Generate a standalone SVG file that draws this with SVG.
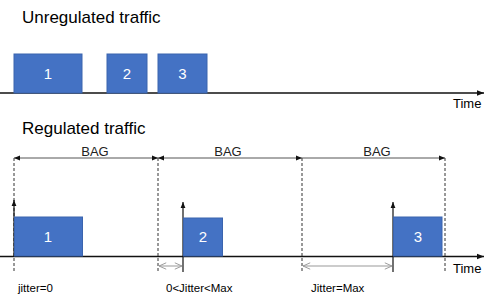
<svg xmlns="http://www.w3.org/2000/svg" width="498" height="301" viewBox="0 0 498 301">
<style>
text{font-family:"Liberation Sans",Arial,sans-serif;fill:#000}
.title{font-size:17px}
.num{font-size:15px;fill:#fff;text-anchor:middle}
.lbl{font-size:11.5px}
.bag{font-size:13px;text-anchor:middle;fill:#222}
.time{font-size:13px}
.box{fill:#4472C4;stroke:#3A64AE;stroke-width:1}
.axis{stroke:#111;stroke-width:1.5;fill:none}
.bagline{stroke:#555;stroke-width:1;fill:none}
.dash{stroke:#333;stroke-width:1;stroke-dasharray:3,2;fill:none}
.up{stroke:#111;stroke-width:1.2;fill:none}
.jit{stroke:#999;stroke-width:1;fill:none}
</style>
<defs>
<marker id="ah" viewBox="0 0 10 10" refX="10" refY="5" markerWidth="7" markerHeight="7" markerUnits="userSpaceOnUse" orient="auto-start-reverse">
<path d="M0,1 L10,5 L0,9 z" fill="#111"/>
</marker>
<marker id="ahs" viewBox="0 0 10 10" refX="10" refY="5" markerWidth="6" markerHeight="6" markerUnits="userSpaceOnUse" orient="auto-start-reverse">
<path d="M0,1 L10,5 L0,9 z" fill="#111"/>
</marker>
<marker id="ao" viewBox="0 0 10 10" refX="10" refY="5" markerWidth="8" markerHeight="8" markerUnits="userSpaceOnUse" orient="auto-start-reverse">
<path d="M1,1 L10,5 L1,9" fill="none" stroke="#999" stroke-width="1.2"/>
</marker>
</defs>

<text class="title" x="22" y="23">Unregulated traffic</text>
<text class="title" x="22" y="134">Regulated traffic</text>

<g id="connectors">
<line class="axis" x1="0" y1="93" x2="484" y2="93" marker-end="url(#ah)"/>
<line class="axis" x1="0" y1="256.5" x2="484" y2="256.5" marker-end="url(#ah)"/>
<line class="dash" x1="14" y1="158" x2="14" y2="273"/>
<line class="dash" x1="158" y1="158" x2="158" y2="273"/>
<line class="dash" x1="302" y1="158" x2="302" y2="273"/>
<line class="dash" x1="445" y1="158" x2="445" y2="273"/>
<line class="bagline" x1="14" y1="158" x2="158" y2="158" marker-start="url(#ahs)" marker-end="url(#ahs)"/>
<line class="bagline" x1="158" y1="158" x2="302" y2="158" marker-start="url(#ahs)" marker-end="url(#ahs)"/>
<line class="bagline" x1="302" y1="158" x2="445" y2="158" marker-end="url(#ahs)"/>
<line class="up" x1="14" y1="256" x2="14" y2="200" marker-end="url(#ahs)"/>
<line class="up" x1="183" y1="272" x2="183" y2="202" marker-end="url(#ahs)"/>
<line class="up" x1="393" y1="272" x2="393" y2="202" marker-end="url(#ahs)"/>
<line class="jit" x1="159" y1="266" x2="182" y2="266" marker-start="url(#ao)" marker-end="url(#ao)"/>
<line class="jit" x1="303" y1="266" x2="392" y2="266" marker-start="url(#ao)" marker-end="url(#ao)"/>
</g>

<g id="u1"><rect class="box" x="14" y="54" width="68" height="39"/><text class="num" x="48" y="79">1</text></g>
<g id="u2"><rect class="box" x="107" y="54" width="40" height="39"/><text class="num" x="127" y="79">2</text></g>
<g id="u3"><rect class="box" x="158" y="54" width="49" height="39"/><text class="num" x="182.5" y="79">3</text></g>

<g id="r1"><rect class="box" x="14.5" y="217" width="68" height="39"/><text class="num" x="48" y="242">1</text></g>
<g id="r2"><rect class="box" x="183.5" y="218" width="39" height="38"/><text class="num" x="203" y="242">2</text></g>
<g id="r3"><rect class="box" x="393.5" y="217" width="48.5" height="39"/><text class="num" x="418" y="242">3</text></g>

<text class="bag" x="95" y="156">BAG</text>
<text class="bag" x="228" y="156">BAG</text>
<text class="bag" x="377" y="156">BAG</text>

<text class="time" x="453" y="108">Time</text>
<text class="time" x="453" y="273">Time</text>

<text class="lbl" x="18" y="292">jitter=0</text>
<text class="lbl" x="166" y="292">0&lt;Jitter&lt;Max</text>
<text class="lbl" x="311" y="292">Jitter=Max</text>
</svg>
